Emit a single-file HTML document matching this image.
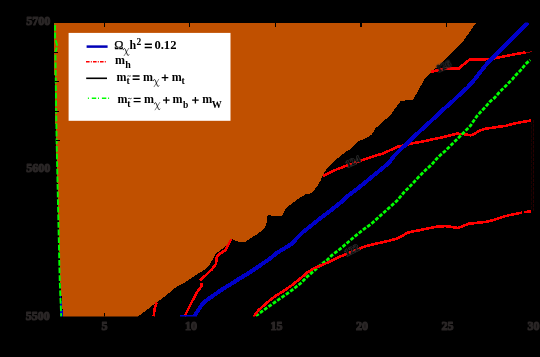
<!DOCTYPE html>
<html><head><meta charset="utf-8">
<style>
html,body{margin:0;padding:0;background:#000;}
body{width:540px;height:357px;overflow:hidden;position:relative;font-family:"Liberation Serif",serif;}
svg{position:absolute;left:0;top:0;}
.t{font-family:"Liberation Serif",serif;font-weight:bold;}
</style></head><body>
<svg width="540" height="357" viewBox="0 0 540 357">
<rect width="540" height="357" fill="#000"/>
<defs><filter id="idf" x="0" y="0" width="540" height="357" filterUnits="userSpaceOnUse"><feOffset dx="0" dy="0"/></filter></defs>
<defs><clipPath id="cp"><rect x="53.5" y="22.6" width="480" height="294"/></clipPath></defs>
<g clip-path="url(#cp)" shape-rendering="crispEdges">
<!-- orange region -->
<polygon fill="#c05000" points="53.9,22.9 476,22.9 471,30 466.8,36 463.4,40.8 456.1,48.4 447.7,56.8 439.3,65.2 430.7,72.7 424.2,79.8 418.5,90 412.8,100.2 401,100.7 395.2,108.5 390.3,115.2 383.6,121.1 375.2,128.6 371.9,134.5 365.1,138.7 358.4,141.2 350.9,148.8 347.2,150.8 340.4,155.9 333.7,161.8 327,168.5 322.8,175.2 320.3,181.1 316.1,187.8 311.1,193.3 305.2,194.5 298.5,198.7 292.6,202.9 289.9,205 286.9,207.5 284,211.7 281.9,215.9 278.9,216.3 270.1,215.4 267.6,214.7 267.2,221.8 265.1,226.8 263.4,229.4 259.2,232.7 256.7,234.4 250.4,238.5 244.5,242.2 239.5,242.2 234.5,240.2 231.1,239 227.7,243.5 222.7,248.6 216,253.6 213.5,257.8 209.3,265.4 204,270 195.6,275.1 187.2,281 175.4,287.7 170.4,291.9 162,298.6 153.6,304.5 145.2,311.2 137.6,316.6 63.1,316.6 60.3,280 58.1,200 56,140 54.8,100 53.9,23"/>
<!-- ticks -->
<g stroke="#000" stroke-width="1.2">
<path d="M104.2,23V26.6M189.8,23V26.6M275.4,23V26.6M361,23V26.6M446.4,23V26.6M104.2,316.5V312.6"/>
</g>
<!-- left blue + green dashed -->
<polygon points="59.7,293 60.7,293 63.2,316.7 60,316.7" fill="#0000c8"/>
<path d="M55.1,23 L55.1,38.5 57.3,46 55.4,52 56,100 56.6,140 57.9,200 59.7,280 61.2,316.6" shape-rendering="auto" stroke="#00ff00" stroke-width="1.9" fill="none" stroke-dasharray="5.8,1.8" stroke-dashoffset="5.6"/>
<path d="M54,52.35h4M54.5,81.7h4M55,111.05h4M55.5,140.4h4" stroke="#000" stroke-width="1"/>
<!-- red contours -->
<g stroke="#ff0000" stroke-width="2.6" fill="none" stroke-linejoin="round">
<path d="M431,71.9 L438.6,69.9 447,68.5 458.7,68.5 463.8,64.3 469.2,59.8 480.6,59.6 492,58.8 500.4,57.1 508.8,55.5 517.2,53.8 525.6,52.4"/>
<path d="M322.8,175.9 L330.4,172.2 338.8,168.5 347.2,165.5 355.6,162.5 364.0,159.6 373.6,156.3 382.0,153.8 390.4,150.1 397.1,146.8 403.8,145.4 412.2,143.4 420.6,141.9 430.0,139.9 440.2,137.8 448.6,135.8 457.0,133.7 463.7,134.1 470.4,135.3 473.8,134.1 478.8,131.1 483.8,129.0 490.6,128.0 499.0,126.7 505.0,126.0 513.9,123.6 521.6,122.0 530.9,120.5"/>
<path d="M184.6,316.4 L187.2,311.2 192,301.5 197,292.3 201.4,286.5 201.3,283.2M199.9,280.2 L205.4,275.6 211.8,269.4 216,264 216.8,257 220.2,253.6 225.2,250.3 228.6,244.4 231.1,239.3"/>
<path d="M153.6,316.4 L154.4,310.3 156.1,303.6 156.9,302.8"/>
</g>
<!-- green dash-dot diagonal -->
<path d="M255.6,316 L257.6,314.6 266.8,307.9 275.2,302 283.6,296.1 292,290.2 300.4,283.5 307.1,276.8 313.8,270.9 320.5,265 327.2,260 331.7,255.4 338.4,250.4 346.8,243.3 355.2,236.1 363.6,229.4 372,223.2 380.4,215.6 388.8,208.1 397.2,200.5 403.8,192.5 410.5,185.8 418.6,177 425.3,170.3 431.8,164.5 436,159.4 440.2,155.2 445.2,151 453.6,142.6 459.5,136.8 464.5,131.7 470.4,125.8 473.4,121.2 476.9,116.2 481.6,110.8 485.4,107 490,101.6 494.7,97.7 499.3,92.3 506.2,85.4 512.4,79.2 515.5,75.4 520.5,70.4 525.6,64 530.3,60" shape-rendering="auto" stroke="#00ff00" stroke-width="2.8" fill="none" stroke-dasharray="3.8,1.5"/>
<g stroke="#ff0000" stroke-width="2.6" fill="none" stroke-linejoin="round">
<path d="M253.4,316.8 L258.4,310.3 266.8,302.8 275.2,296.1 283.6,291.0 292.0,285.1 300.4,278.4 307.1,272.6 313.8,268.4 322.2,265.0 330.3,261.3 338.4,257.4 346.8,253.7 355.2,250.3 363.6,247.0 372.0,244.5 380.4,242.8 388.8,240.8 397.2,238.6 402.2,236.1 407.2,232.7 414.0,231.2 420.0,230.1 426.8,228.6 435.2,226.9 445.3,226.1 452.0,226.9 457.9,228.1 463.7,225.7 468.8,223.7 477.5,222.8 486.0,221.8 494.5,219.7 503.7,216.6 512.1,214.5 521.8,212.7M524.3,212.2 L528.9,211.5 530.9,211.2"/>
</g>
<path d="M525.6,52.4 L532,51.8" stroke="#900000" stroke-width="1" fill="none"/>
<path d="M533.5,120 V210.8" shape-rendering="auto" stroke="#520000" stroke-width="1" stroke-dasharray="3.2,1" fill="none"/>
<path d="M531.5,122 V210" shape-rendering="auto" stroke="#1c0000" stroke-width="1" stroke-dasharray="3.2,1" fill="none"/>
<!-- blue -->
<path d="M180.1,317.1 L194.3,317.1 195.9,313.7 199.4,308.4 201.5,305.1 205.7,300.9 210.5,297.5 214.1,295.0 222.5,289.1 230.9,284.1 239.3,278.7 247.7,273.7 256.1,268.2 264.5,262.4 270.8,257.9 277.3,252.6 285.7,247.6 292.4,243.4 296.6,238.4 302.5,232.5 310.9,225.8 319.3,219.1 327.7,212.8 336.1,206.1 343.6,200.2 347.7,196.1 356.7,189.2 365.1,182.6 374.1,175.0 382.5,168.3 389.2,162.4 394.2,155.7 402.0,148.1 410.8,139.9 417.3,133.5 425.7,125.9 434.1,118.1 442.5,110.0 450.9,102.9 459.3,94.9 467.7,87.3 474.3,79.8 480.7,71.5 486.7,64.0 492.7,58.1 501.1,49.7 509.5,41.3 517.9,32.9 524.6,26.2 528.1,22.7" stroke="#0000c8" stroke-width="4" fill="none" stroke-linejoin="round"/>
</g>
<!-- contour labels -->
<g class="t" font-size="10" fill="#0a0a0a" stroke="#343434" stroke-width="1.1" paint-order="stroke" text-anchor="middle" filter="url(#idf)">
<text transform="translate(353,161.6) rotate(-24)" y="3.3">124</text>
<text transform="translate(443.8,66.6) rotate(-24)" y="3.3">126</text>
<text transform="translate(351.8,250.2) rotate(-26)" y="3.3">122</text>
</g>
<!-- legend -->
<rect x="68.6" y="32.9" width="161.9" height="87.9" fill="#fff"/>
<path d="M86.6,46.6 H107.6" stroke="#0000b8" stroke-width="2.5"/>
<path d="M86,61.7 H107" stroke="#ff0000" stroke-width="1.4" stroke-dasharray="3.6,1.2,1,1.2"/>
<path d="M86.2,78.3 H107" stroke="#000" stroke-width="1.6"/>
<path d="M87.9,98.3 H109.2" stroke="#00ff00" stroke-width="1.6" stroke-dasharray="1,2.9,4.4,1.8" />
<defs>
<g id="chi" fill="none" stroke="#000" stroke-linecap="round">
<path d="M0.3,1.6 C0.5,0.2 1.7,-0.1 2.2,1.2 L4.2,6.4 C4.6,7.6 5.3,7.7 5.8,6.8" stroke-width="0.85"/>
<path d="M5.6,0.2 L1.0,7.6" stroke-width="0.5"/>
</g>
</defs>
<g class="t" font-size="12" fill="#000" filter="url(#idf)">
<text x="114.2" y="48.8" font-size="12.4" font-weight="normal" stroke="#000" stroke-width="0.25">Ω</text>
<use href="#chi" x="123.1" y="48.1"/>
<text x="129.5" y="48.8">h</text>
<text x="136.5" y="44.7" font-size="9.5">2</text>
<path d="M144.7,44.2h7.2M144.7,47.4h7.2" stroke="#000" stroke-width="1.5"/>
<text x="154.4" y="48.9" font-size="12.6">0.12</text>

<text x="115" y="63.8">m</text>
<text x="125.2" y="67.7" font-size="10">h</text>

<text x="116.5" y="80.5">m</text>
<text x="126.4" y="84.3" font-size="9.5">t</text>
<path d="M127.3,76.2q0.9,-0.9 1.8,-0.2t1.8,-0.3" stroke="#000" stroke-width="0.7" fill="none"/>
<path d="M132.6,76h7M132.6,79.2h7" stroke="#000" stroke-width="1.4"/>
<text x="143" y="80.5">m</text>
<use href="#chi" x="153.1" y="79.1"/>
<path d="M161.7,77.7h6.6M165,74.4v6.6" stroke="#000" stroke-width="1.3"/>
<text x="171.7" y="80.5">m</text>
<text x="181.5" y="84.3" font-size="9.5">t</text>

<text x="117.4" y="103">m</text>
<text x="127.3" y="107.3" font-size="9.5">t</text>
<path d="M128.1,98.7q0.9,-0.9 1.8,-0.2t1.8,-0.3" stroke="#000" stroke-width="0.7" fill="none"/>
<path d="M133.6,98.4h7M133.6,101.6h7" stroke="#000" stroke-width="1.4"/>
<text x="143.9" y="103">m</text>
<use href="#chi" x="154.1" y="102.3"/>
<path d="M163,100.2h6.6M166.3,96.9v6.6" stroke="#000" stroke-width="1.3"/>
<text x="172.5" y="103">m</text>
<text x="183" y="107.5" font-size="9.5">b</text>
<path d="M192.1,100.2h6.6M195.4,96.9v6.6" stroke="#000" stroke-width="1.3"/>
<text x="202.2" y="103">m</text>
<text x="211.7" y="108" font-size="10">W</text>
</g>
<!-- axis tick labels -->
<g class="t" font-size="12" fill="#2a2626" stroke="#2a2626" stroke-width="1.1" stroke-linejoin="round" filter="url(#idf)">
<text x="50.2" y="25" text-anchor="end">5700</text>
<text x="50.2" y="172" text-anchor="end">5600</text>
<text x="49.8" y="320" text-anchor="end">5500</text>
<text x="104.4" y="330.3" text-anchor="middle">5</text>
<text x="191" y="330.3" text-anchor="middle">10</text>
<text x="276.5" y="330.3" text-anchor="middle">15</text>
<text x="362" y="330.3" text-anchor="middle">20</text>
<text x="447.5" y="330.3" text-anchor="middle">25</text>
<text x="539.6" y="330.3" text-anchor="end">30</text>
</g>
</svg>
</body></html>
